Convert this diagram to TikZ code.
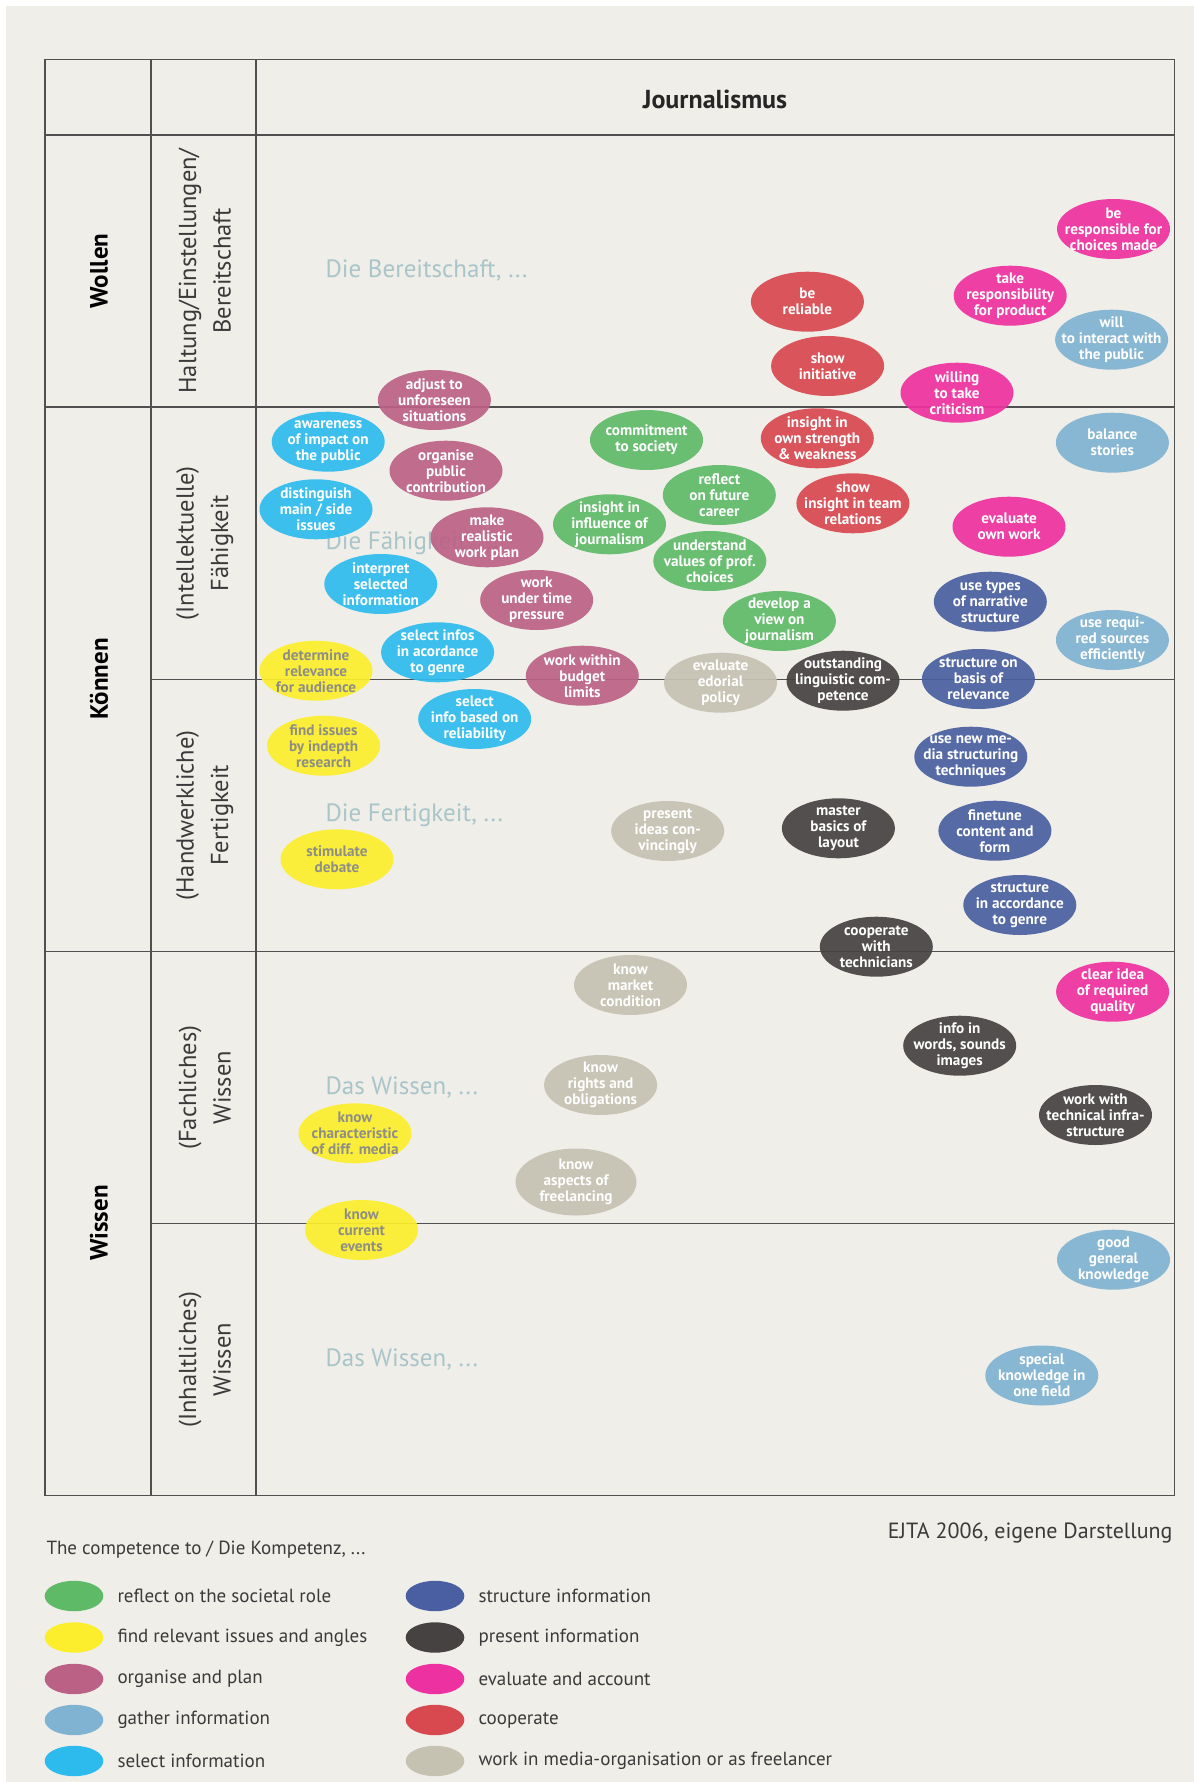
\documentclass[tikz,border=0pt]{standalone}
\usepackage{fontspec}
\setmainfont{PT Sans}
\newfontfamily\ellfont{PT Sans}
\definecolor{bg}{HTML}{EFEEE9}
\definecolor{gridc}{HTML}{505050}
\definecolor{labc}{HTML}{3A3A3A}
\definecolor{phc}{HTML}{A9C5C9}
\definecolor{cgreen}{HTML}{5FBA68}
\definecolor{cyellow}{HTML}{FCEE2C}
\definecolor{cmauve}{HTML}{BB6186}
\definecolor{clblue}{HTML}{7FB3D1}
\definecolor{ccyan}{HTML}{2DBBEE}
\definecolor{cblue}{HTML}{4A5FA1}
\definecolor{cdark}{HTML}{464241}
\definecolor{cpink}{HTML}{EE31A0}
\definecolor{cred}{HTML}{D8494F}
\definecolor{cbeige}{HTML}{C6C2B2}
\definecolor{ytext}{HTML}{8E8E86}
\newcommand\bub[6]{%
  \fill[#4, fill opacity=0.92] (#2,#3) ellipse [x radius=56.5pt, y radius=30pt];
  \node[bubtxt, text=#5] (#1) at (#2,#3) {#6};}
\begin{document}
\begin{tikzpicture}[x=1pt,y=-1pt,
  bubtxt/.style={align=center, inner sep=0pt, font=\ellfont\bfseries\fontsize{15.2}{16}\selectfont},
  gridline/.style={draw=gridc, line width=1.1pt},
  rowlab/.style={rotate=90, font=\bfseries\fontsize{25}{29}\selectfont, text=black},
  collab/.style={rotate=90, align=center, font=\fontsize{24.5}{34.5}\selectfont, text=labc},
  ph/.style={anchor=west, font=\fontsize{25}{29}\selectfont, text=phc},
  legtxt/.style={anchor=west, font=\fontsize{19}{23}\selectfont, text=labc}]
\useasboundingbox (0,0) rectangle (1194,1782);
\fill[white] (0,0) rectangle (1194,1782);
\fill[bg] (6,6) rectangle (1194,1782);
% grid
\draw[gridline] (45,59.5) rectangle (1174.5,1495.5);
\draw[gridline] (151,59.5) -- (151,1495.5);
\draw[gridline] (256,59.5) -- (256,1495.5);
\draw[gridline] (45,135) -- (1174.5,135);
\draw[gridline] (45,407) -- (1174.5,407);
\draw[gridline] (151,679.4) -- (1174.5,679.4);
\draw[gridline] (45,951.6) -- (1174.5,951.6);
\draw[gridline] (151,1223.7) -- (1174.5,1223.7);
% header and labels
\node[font=\bfseries\fontsize{26}{30}\selectfont, text=black!85] (title) at (715,99) {Journalismus};
\node[rowlab] (wollen) at (99,271) {Wollen};
\node[rowlab] (koennen) at (99,679) {Können};
\node[rowlab] (wissen) at (99,1223) {Wissen};
\node[collab] (c1) at (204.7,271) {Haltung/Einstellungen/\\Bereitschaft};
\node[collab] (c2) at (204.7,543.2) {(Intellektuelle)\\Fähigkeit};
\node[collab] (c3) at (204.7,815.5) {(Handwerkliche)\\Fertigkeit};
\node[collab] (c4) at (204.7,1087.6) {(Fachliches)\\Wissen};
\node[collab] (c5) at (204.7,1359.6) {(Inhaltliches)\\Wissen};
\node[ph] (p1) at (322,271) {Die Bereitschaft, ...};
\node[ph] (p2) at (322,543.2) {Die Fähigkeit, ...};
\node[ph] (p3) at (322,815.5) {Die Fertigkeit, ...};
\node[ph] (p4) at (322,1087.6) {Das Wissen, ...};
\node[ph] (p5) at (322,1359.6) {Das Wissen, ...};
% Wollen
\bub{adj}{434.4}{400}{cmauve}{white}{adjust to\\unforeseen\\situations}
\bub{resp}{1113.5}{229}{cpink}{white}{be\\responsible for\\choices made}
\bub{rel}{807.4}{301.7}{cred}{white}{be\\reliable}
\bub{takeresp}{1010.2}{295.7}{cpink}{white}{take\\responsibility\\for product}
\bub{interact}{1111.6}{339.7}{clblue}{white}{will\\to interact with\\the public}
\bub{init}{827.6}{366}{cred}{white}{show\\initiative}
\bub{crit}{957}{392.7}{cpink}{white}{willing\\to take\\criticism}
% Faehigkeit
\bub{aware}{328.2}{441.7}{ccyan}{white}{awareness\\of impact on\\the public}
\bub{orgpub}{446}{470.7}{cmauve}{white}{organise\\public\\contribution}
\bub{dist}{316}{509.3}{ccyan}{white}{distinguish\\main / side\\issues}
\bub{plan}{487}{537.3}{cmauve}{white}{make\\realistic\\work plan}
\bub{interp}{380.8}{584}{ccyan}{white}{interpret\\selected\\information}
\bub{time}{536.7}{600}{cmauve}{white}{work\\under time\\pressure}
\bub{selgenre}{437.6}{652.3}{ccyan}{white}{select infos\\in acordance\\to genre}
\bub{determ}{316}{670.7}{cyellow}{ytext}{determine\\relevance\\for audience}
\bub{budget}{582.3}{675.7}{cmauve}{white}{work within\\budget\\limits}
\bub{selrel}{474.7}{719}{ccyan}{white}{select\\info based on\\reliability}
\bub{findiss}{323.6}{745.7}{cyellow}{ytext}{find issues\\by indepth\\research}
\bub{commit}{646.5}{440}{cgreen}{white}{commitment\\to society}
\bub{strength}{817.3}{438.3}{cred}{white}{insight in\\own strength\\\& weakness}
\bub{balance}{1112.4}{442.7}{clblue}{white}{balance\\stories}
\bub{career}{719.3}{495}{cgreen}{white}{reflect\\on future\\career}
\bub{team}{852.9}{503.3}{cred}{white}{show\\insight in team\\relations}
\bub{influence}{609.5}{524.3}{cgreen}{white}{insight in\\influence of\\journalism}
\bub{evalown}{1009}{526.7}{cpink}{white}{evaluate\\own work}
\bub{values}{709.8}{561}{cgreen}{white}{understand\\values of prof.\\choices}
\bub{narrative}{990.3}{601.7}{cblue}{white}{use types\\of narrative\\structure}
\bub{view}{779.4}{621}{cgreen}{white}{develop a\\view on\\journalism}
\bub{sources}{1112.4}{640}{clblue}{white}{use requi-\\red sources\\efficiently}
\bub{edorial}{720.5}{682.7}{cbeige}{white}{evaluate\\edorial\\policy}
\bub{ling}{843}{680.7}{cdark}{white}{outstanding\\linguistic com-\\petence}
\bub{relev}{978.4}{679}{cblue}{white}{structure on\\basis of\\relevance}
% Fertigkeit
\bub{stim}{337}{859.3}{cyellow}{ytext}{stimulate\\debate}
\bub{newmedia}{970.8}{756.7}{cblue}{white}{use new me-\\dia structuring\\techniques}
\bub{present}{667.7}{831}{cbeige}{white}{present\\ideas con-\\vincingly}
\bub{layout}{838.4}{828.3}{cdark}{white}{master\\basics of\\layout}
\bub{finetune}{994.9}{830.7}{cblue}{white}{finetune\\content and\\form}
\bub{structgenre}{1019.8}{905}{cblue}{white}{structure\\in accordance\\to genre}
\bub{tech}{876.3}{946.7}{cdark}{white}{cooperate\\with\\technicians}
% Wissen
\bub{market}{630.5}{985}{cbeige}{white}{know\\market\\condition}
\bub{quality}{1112.6}{991.7}{cpink}{white}{clear idea\\of required\\quality}
\bub{words}{959.7}{1045.7}{cdark}{white}{info in\\words, sounds\\images}
\bub{rights}{600.6}{1085}{cbeige}{white}{know\\rights and\\obligations}
\bub{infra}{1095.5}{1115}{cdark}{white}{work with\\technical infra-\\structure}
\bub{charact}{355}{1133.3}{cyellow}{ytext}{know\\characteristic\\of diff. media}
\fill[cbeige, fill opacity=0.92] (576,1182) ellipse [x radius=60.5pt, y radius=33.5pt];
\node[bubtxt, text=white] (freelance) at (576,1182) {know\\aspects of\\freelancing};
\bub{current}{361.5}{1230}{cyellow}{ytext}{know\\current\\events}
\bub{general}{1113.5}{1259.7}{clblue}{white}{good\\general\\knowledge}
\bub{special}{1041.8}{1375.5}{clblue}{white}{special\\knowledge in\\one field}
% source and legend
\node[anchor=east, font=\fontsize{22}{26}\selectfont, text=labc] (src) at (1176,1533) {EJTA 2006, eigene Darstellung};
\node[legtxt] (legtitle) at (43,1550) {The competence to / Die Kompetenz, ...};
\foreach \yy/\cl/\txt [count=\i] in {1596/cgreen/reflect on the societal role, 1637.5/cyellow/find relevant issues and angles, 1679/cmauve/organise and plan, 1720/clblue/gather information, 1761/ccyan/select information}{
  \fill[\cl] (74,\yy) ellipse [x radius=29.3pt, y radius=15.2pt];
  \node[legtxt] (legL\i) at (114,\yy) {\txt};
}
\foreach \yy/\cl/\txt [count=\i] in {1596/cblue/structure information, 1637.5/cdark/present information, 1679/cpink/evaluate and account, 1720/cred/cooperate, 1761/cbeige/work in media-organisation or as freelancer}{
  \fill[\cl] (435,\yy) ellipse [x radius=29.3pt, y radius=15.2pt];
  \node[legtxt] (legR\i) at (475,\yy) {\txt};
}
\end{tikzpicture}
\end{document}
